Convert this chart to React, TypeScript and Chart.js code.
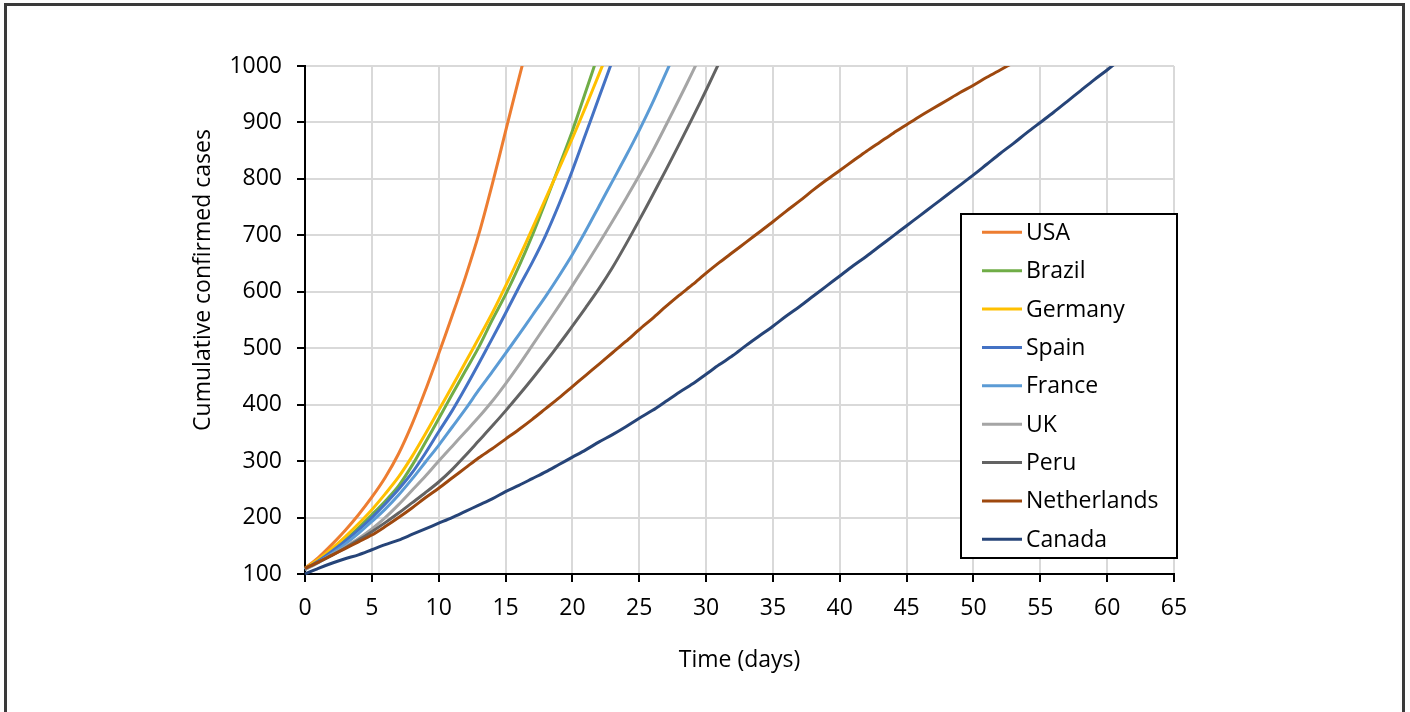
import React, { useEffect, useRef } from 'react';
import { Chart, registerables } from 'chart.js';

Chart.register(...registerables);

// ---- data ----
const countries = ['USA', 'Brazil', 'Germany', 'Spain', 'France', 'UK', 'Peru', 'Netherlands', 'Canada'];
const colors = ['#ED7D31', '#70AD47', '#FFC000', '#4472C4', '#5B9BD5', '#A5A5A5', '#636363', '#9E480E', '#264478'];

// cumulative confirmed cases, index = day since 100th case
const usa = [110, 129, 152, 177, 205, 236, 271, 313, 365, 425, 490, 557, 626, 702, 790, 884, 978, 1070];
const brazil = [108, 123, 140, 160, 182, 205, 229, 256, 292, 333, 375, 418, 460, 502, 550, 595, 645, 700, 760, 822, 885, 955, 1025];
const germany = [110, 126, 145, 166, 189, 214, 242, 272, 308, 348, 390, 432, 475, 518, 562, 610, 660, 712, 765, 818, 872, 928, 986, 1045];
const spain = [108, 123, 140, 158, 178, 200, 224, 250, 279, 314, 352, 389, 430, 473, 517, 562, 608, 652, 700, 755, 815, 880, 945, 1010];
const france = [108, 121, 136, 153, 172, 193, 215, 240, 268, 298, 328, 360, 392, 426, 458, 491, 524, 558, 592, 628, 666, 708, 752, 796, 840, 886, 935, 988, 1040];
const uk = [108, 120, 134, 148, 163, 180, 200, 223, 248, 273, 300, 326, 352, 378, 406, 437, 470, 505, 540, 575, 611, 648, 686, 725, 765, 806, 849, 895, 942, 990, 1040];
const peru = [110, 121, 133, 146, 160, 175, 191, 208, 226, 244, 263, 285, 310, 336, 362, 389, 417, 446, 476, 507, 539, 572, 606, 643, 684, 727, 771, 816, 862, 909, 957, 1007];
const netherlands = [110, 121, 133, 145, 157, 169, 184, 200, 217, 235, 252, 270, 288, 306, 322, 339, 356, 374, 393, 412, 432, 452, 472, 492, 512, 533, 553, 574, 594, 613, 633, 652, 670, 688, 706, 724, 743, 761, 780, 798, 815, 832, 849, 865, 881, 896, 911, 925, 939, 953, 966, 980, 993, 1006];
const canada = [100, 110, 119, 127, 134, 143, 152, 160, 170, 180, 190, 200, 211, 222, 233, 246, 257, 269, 281, 294, 307, 320, 334, 347, 361, 376, 390, 406, 422, 437, 454, 471, 487, 505, 522, 539, 557, 574, 592, 610, 628, 646, 663, 681, 699, 717, 735, 753, 771, 789, 807, 826, 845, 863, 882, 900, 918, 937, 956, 975, 993, 1012];

const series = [usa, brazil, germany, spain, france, uk, peru, netherlands, canada];

const xTickValues = [0, 5, 10, 15, 20, 25, 30, 35, 40, 45, 50, 55, 60, 65];
const yTickValues = [100, 200, 300, 400, 500, 600, 700, 800, 900, 1000];
const xTitle = 'Time (days)';
const yTitle = 'Cumulative confirmed cases';

const FONT = '"Open Sans", "DejaVu Sans", sans-serif';

const overlayPlugin = {
  id: 'overlay',
  afterDraw(chart: any) {
    const ctx = chart.ctx as CanvasRenderingContext2D;
    // y-axis title
    ctx.save();
    ctx.translate(203, 280);
    ctx.rotate(-Math.PI / 2);
    ctx.font = `23px ${FONT}`;
    ctx.fillStyle = '#000';
    ctx.textAlign = 'center';
    ctx.textBaseline = 'middle';
    ctx.fillText(yTitle, 0, 0);
    ctx.restore();

    // legend box
    ctx.save();
    const bx = 961, by = 214, bw = 216, bh = 344;
    ctx.fillStyle = '#fff';
    ctx.fillRect(bx, by, bw, bh);
    ctx.strokeStyle = '#000';
    ctx.lineWidth = 2;
    ctx.strokeRect(bx, by, bw, bh);
    ctx.font = `23px ${FONT}`;
    ctx.textAlign = 'left';
    ctx.textBaseline = 'middle';
    chart.data.datasets.forEach((ds: any, i: number) => {
      const y = 232.3 + i * 38.37;
      ctx.strokeStyle = ds.borderColor;
      ctx.lineWidth = 3;
      ctx.beginPath();
      ctx.moveTo(982, y);
      ctx.lineTo(1022, y);
      ctx.stroke();
      ctx.fillStyle = '#000';
      ctx.fillText(ds.label, 1026, y + 1);
    });
    ctx.restore();
  },
};

export default function App() {
  const ref = useRef<HTMLCanvasElement>(null);

  useEffect(() => {
    if (!ref.current) return;
    const chart = new Chart(ref.current, {
      type: 'line',
      data: {
        datasets: countries.map((name, i) => ({
          label: name,
          data: series[i].map((v, d) => ({ x: d, y: v })),
          borderColor: colors[i],
          backgroundColor: colors[i],
          borderWidth: 3,
          pointRadius: 0,
          tension: 0.3,
          fill: false,
          order: countries.length - i,
          clip: { left: 3, right: 3, top: 0, bottom: 3 },
        })),
      },
      options: {
        animation: false,
        responsive: false,
        maintainAspectRatio: false,
        layout: { padding: { top: 66, right: 236, bottom: 0, left: 0 } },
        plugins: {
          legend: { display: false },
          tooltip: { enabled: false },
          title: { display: false },
        },
        scales: {
          x: {
            type: 'linear',
            min: 0,
            max: 65,
            afterBuildTicks: (scale: any) => {
              scale.ticks = xTickValues.map((v) => ({ value: v }));
            },
            afterFit: (scale: any) => {
              scale.height = 138;
            },
            ticks: {
              font: { family: FONT, size: 23 },
              color: '#000',
              padding: 13,
              maxRotation: 0,
              autoSkip: false,
              callback: (v: any) => String(v),
            },
            grid: {
              color: '#D9D9D9',
              lineWidth: 2,
              tickColor: '#000',
              tickWidth: 2,
              tickLength: 8,
            },
            border: { color: '#000', width: 2 },
            title: {
              display: true,
              text: xTitle,
              font: { family: FONT, size: 23 },
              color: '#000',
              padding: { top: 0, bottom: 38 },
            },
          },
          y: {
            type: 'linear',
            min: 100,
            max: 1000,
            afterBuildTicks: (scale: any) => {
              scale.ticks = yTickValues.map((v) => ({ value: v }));
            },
            afterFit: (scale: any) => {
              scale.width = 305;
            },
            ticks: {
              font: { family: FONT, size: 23 },
              color: '#000',
              padding: 15,
              autoSkip: false,
              callback: (v: any) => String(v),
            },
            grid: {
              color: '#D9D9D9',
              lineWidth: 2,
              tickColor: '#000',
              tickWidth: 2,
              tickLength: 8,
            },
            border: { color: '#000', width: 2 },
          },
        },
      },
      plugins: [overlayPlugin],
    });
    return () => chart.destroy();
  }, []);

  return (
    <div style={{ position: 'fixed', left: 0, top: 0, width: 1410, height: 712, background: '#fff', overflow: 'hidden' }}>
      <canvas ref={ref} width={1410} height={712} style={{ position: 'absolute', left: 0, top: 0, width: 1410, height: 712 }} />
      <div
        style={{
          position: 'absolute',
          left: 4,
          top: 3,
          width: 1401,
          height: 800,
          boxSizing: 'border-box',
          border: '3px solid #3a3a3a',
          borderBottom: 'none',
          pointerEvents: 'none',
        }}
      />
    </div>
  );
}
